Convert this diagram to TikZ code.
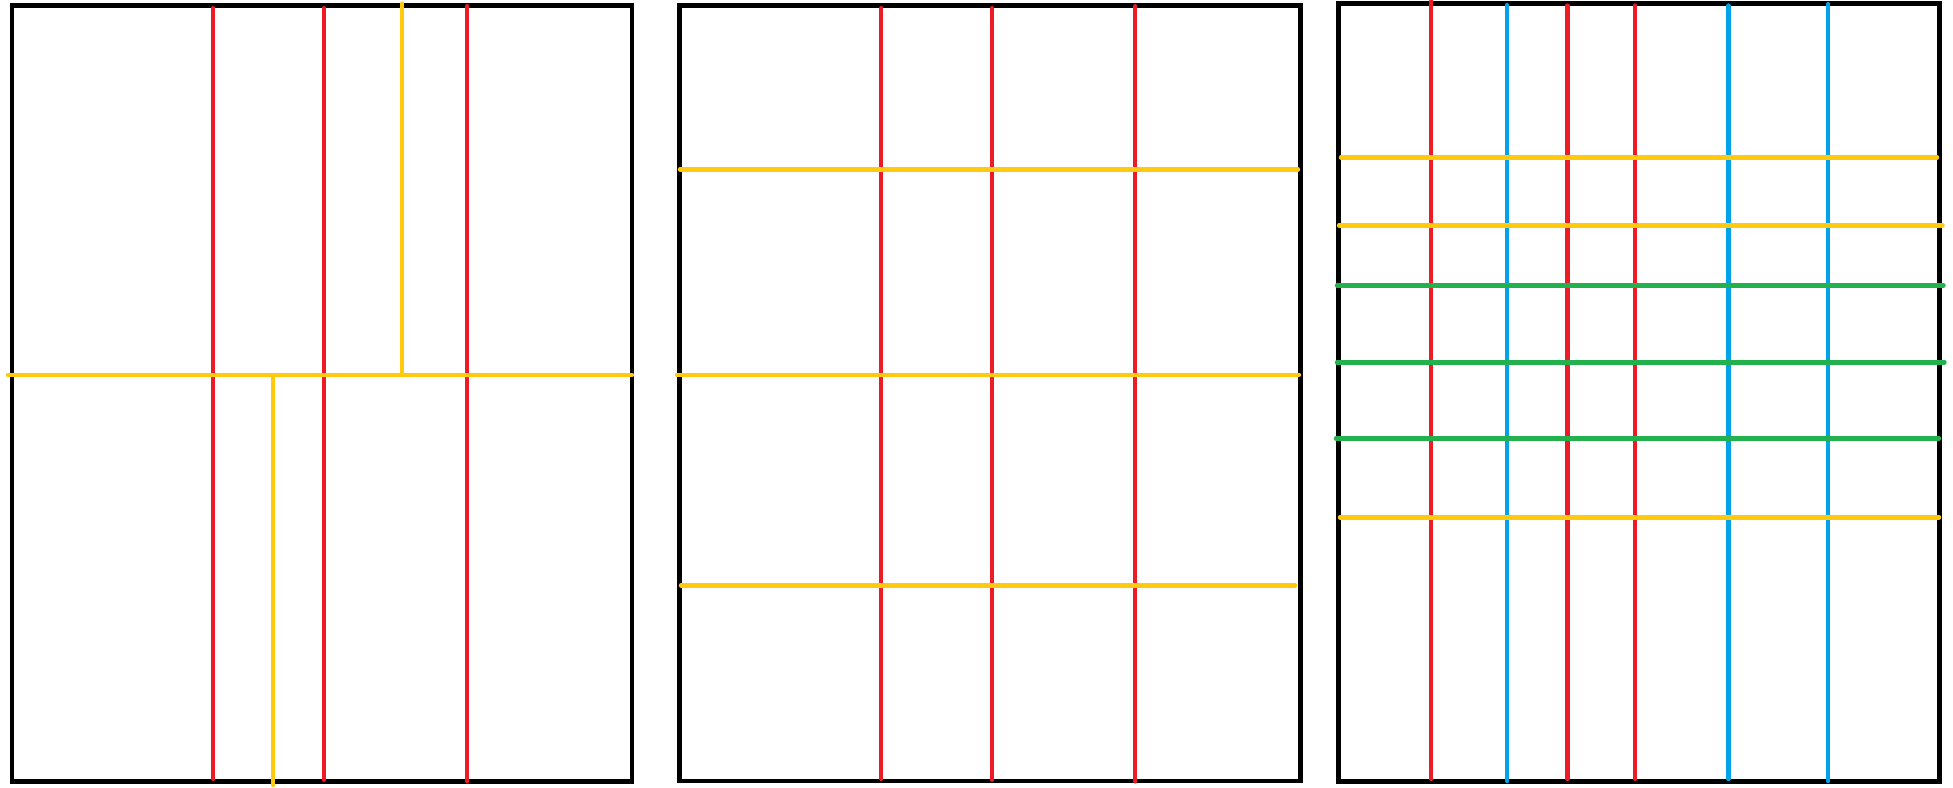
\documentclass[tikz,border=0pt]{standalone}
\definecolor{pred}{HTML}{ED1C24}
\definecolor{pyellow}{HTML}{FFC90E}
\definecolor{pblue}{HTML}{00A2E8}
\definecolor{pgreen}{HTML}{22B14C}
\begin{document}
\begin{tikzpicture}[x=0.01cm,y=-0.01cm,
  frame/.style={draw=black,line width=1.35pt},
  redln/.style={draw=pred,line width=1.15pt,line cap=round},
  blueln/.style={draw=pblue,line width=1.2pt,line cap=round},
  yelln/.style={draw=pyellow,line width=1.25pt,line cap=round},
  greenln/.style={draw=pgreen,line width=1.25pt,line cap=round}]
\useasboundingbox[fill=white] (0,0) rectangle (1953,787);
% Panel 1
\draw[frame] (12,5.7) rectangle (632,781.3);
\draw[redln] (213.4,8) -- (213.4,779);
\draw[redln] (324.1,8) -- (324.1,780);
\draw[redln] (467.4,6) -- (467.4,781.5);
\draw[yelln] (402.2,3.5) -- (402.2,375);
\draw[yelln] (8,375) -- (632,375);
\draw[yelln] (273.2,375) -- (273.2,785);
% Panel 2
\draw[frame] (679.2,5.7) rectangle (1300.2,781);
\draw[redln] (881.4,8) -- (881.4,779);
\draw[redln] (992.1,8) -- (992.1,780);
\draw[redln] (1135.4,6) -- (1135.4,781.5);
\draw[yelln] (680,169.4) -- (1298,169.4);
\draw[yelln] (677,374.9) -- (1299,374.9);
\draw[yelln] (681,585.4) -- (1295,585.4);
% Panel 3
\draw[frame] (1338.4,3.3) rectangle (1939.3,781.5);
\draw[redln] (1431.4,1) -- (1431.4,779);
\draw[blueln] (1507.3,5) -- (1507.3,781);
\draw[redln] (1567.5,5.5) -- (1567.5,779);
\draw[redln] (1635.3,5.5) -- (1635.3,779);
\draw[blueln] (1728.6,5.5) -- (1728.6,779);
\draw[blueln] (1828.3,4) -- (1828.3,781);
\draw[yelln] (1341,157.3) -- (1937,157.3);
\draw[yelln] (1339,225.3) -- (1942.5,225.3);
\draw[greenln] (1337,285.3) -- (1943.5,285.3);
\draw[greenln] (1337,362.3) -- (1944.5,362.3);
\draw[greenln] (1336,438.3) -- (1939,438.3);
\draw[yelln] (1340,517.3) -- (1939,517.3);
\end{tikzpicture}
\end{document}
